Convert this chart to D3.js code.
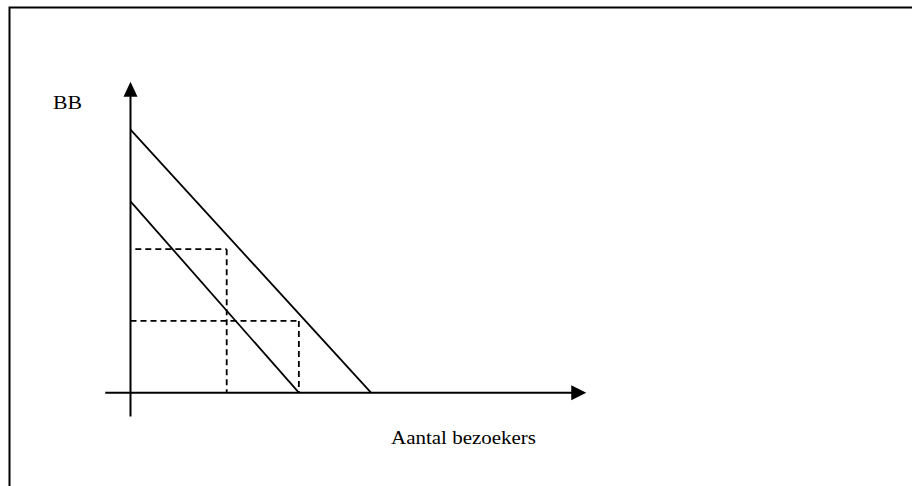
<!DOCTYPE html>
<html>
<head>
<meta charset="utf-8">
<script src="https://cdn.jsdelivr.net/npm/d3@7"></script>
<style>
  html, body { margin: 0; padding: 0; background: #fff; }
  svg { display: block; }
</style>
</head>
<body>
<svg id="chart" width="912" height="486"></svg>
<script>
// ---- data (abstract units: Q = aantal bezoekers, P = BB) ----
const axisLabels = { y: "BB", x: "Aantal bezoekers" };
const xDomain = [0, 10];           // Q units
const yDomain = [0, 11];           // P units
const xAxisExtent = [-1.05, 18.95];
const yAxisExtent = [-1.0, 13.0];
// demand lines: [P-intercept, Q-intercept]
const demandLines = [
  { name: "D2", pIntercept: 11, qIntercept: 10 },
  { name: "D1", pIntercept: 8, qIntercept: 7 }
];
// dashed guide segments [q1, p1, q2, p2]
const guides = [
  [0.2, 6, 4, 6],
  [4, 6, 4, 0],
  [0, 3, 7, 3],
  [7, 3, 7, 0]
];

const svg = d3.select("#chart");
const x = d3.scaleLinear().domain(xDomain).range([130.5, 371]);
const y = d3.scaleLinear().domain(yDomain).range([392.7, 129.6]);

// frame (only top and left edges fall inside the picture)
svg.append("rect")
  .attr("x", 9.5).attr("y", 7.5)
  .attr("width", 1200).attr("height", 1200)
  .attr("fill", "none").attr("stroke", "#000").attr("stroke-width", 2);

// axes
svg.append("line")
  .attr("x1", x(0)).attr("x2", x(0))
  .attr("y1", y(yAxisExtent[0])).attr("y2", y(yAxisExtent[1]) + 14)
  .attr("stroke", "#000").attr("stroke-width", 2);
svg.append("line")
  .attr("x1", x(xAxisExtent[0])).attr("x2", x(xAxisExtent[1]) - 14)
  .attr("y1", y(0)).attr("y2", y(0))
  .attr("stroke", "#000").attr("stroke-width", 2);

// arrowheads
const yt = y(yAxisExtent[1]);
svg.append("path")
  .attr("d", `M${x(0)},${yt} L${x(0) - 7},${yt + 15} L${x(0) + 7},${yt + 15} Z`)
  .attr("fill", "#000");
const xt = x(xAxisExtent[1]);
svg.append("path")
  .attr("d", `M${xt},${y(0)} L${xt - 15},${y(0) - 7.5} L${xt - 15},${y(0) + 7.5} Z`)
  .attr("fill", "#000");

// demand lines
svg.selectAll("line.demand").data(demandLines).join("line")
  .attr("class", "demand")
  .attr("x1", x(0)).attr("y1", d => y(d.pIntercept))
  .attr("x2", d => x(d.qIntercept)).attr("y2", y(0))
  .attr("stroke", "#000").attr("stroke-width", 1.8);

// dashed guides
svg.selectAll("line.guide").data(guides).join("line")
  .attr("class", "guide")
  .attr("x1", d => x(d[0])).attr("y1", d => y(d[1]))
  .attr("x2", d => x(d[2])).attr("y2", d => y(d[3]))
  .attr("stroke", "#000").attr("stroke-width", 1.8)
  .attr("stroke-dasharray", "6,4");

// labels
svg.append("text")
  .attr("x", 53).attr("y", 109)
  .attr("font-family", "'Liberation Serif', 'Times New Roman', serif")
  .attr("font-size", 18.5)
  .attr("textLength", 29).attr("lengthAdjust", "spacingAndGlyphs")
  .text(axisLabels.y);
svg.append("text")
  .attr("x", 391).attr("y", 444)
  .attr("font-family", "'Liberation Serif', 'Times New Roman', serif")
  .attr("font-size", 18.5)
  .attr("textLength", 145).attr("lengthAdjust", "spacingAndGlyphs")
  .text(axisLabels.x);
</script>
</body>
</html>
